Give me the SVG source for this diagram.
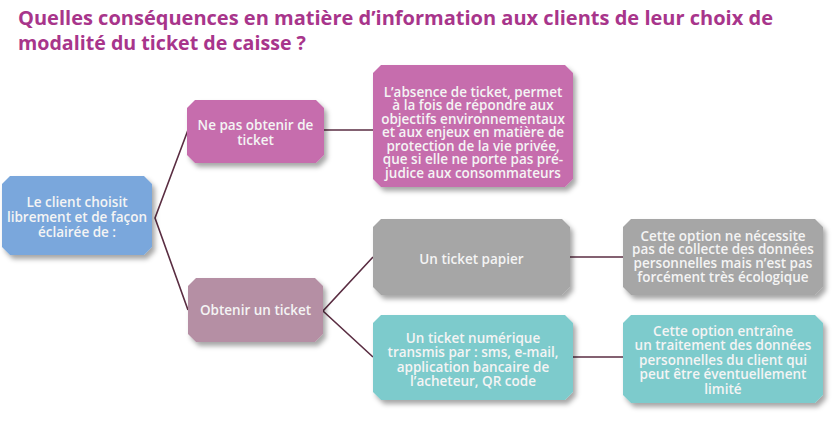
<svg xmlns="http://www.w3.org/2000/svg" width="833" height="426" viewBox="0 0 833 426">
<defs>
<filter id="sh" x="-10%" y="-10%" width="125%" height="130%">
<feDropShadow dx="3" dy="4" stdDeviation="2.5" flood-color="#000" flood-opacity="0.35"/>
</filter>
</defs>
<style>
.title{font-family:"Open Sans","Liberation Sans",sans-serif;font-weight:bold;font-size:19px;fill:#a8358b}
.t{font-family:"Open Sans","Liberation Sans",sans-serif;font-size:13.5px;font-weight:600;fill:#f4f4f4;text-anchor:middle}
.c{fill:none;stroke:#5a2d42;stroke-width:1.6}
.blue{fill:#7aa7dc}.pink{fill:#c66dad}.mauve{fill:#b58fa4}.gray{fill:#a6a6a6}.teal{fill:#7dcbcc}
</style>
<rect width="833" height="426" fill="#fff"/>
<text class="title" x="18" y="25" textLength="755" lengthAdjust="spacingAndGlyphs">Quelles conséquences en matière d’information aux clients de leur choix de</text>
<text class="title" x="18" y="50" textLength="288" lengthAdjust="spacingAndGlyphs">modalité du ticket de caisse ?</text>
<g id="connectors">
<polyline class="c" points="188,130 155,218 188,310"/>
<line class="c" x1="324" y1="130" x2="373" y2="130"/>
<polyline class="c" points="373,257 323,311 373,357"/>
<line class="c" x1="570" y1="257" x2="623" y2="257"/>
<line class="c" x1="573" y1="357" x2="623" y2="357"/>
</g>
<g id="root">
<polygon class="blue" filter="url(#sh)" points="10,176 144,176 152,184 152,247 144,255 10,255 2,247 2,184"/>
<text class="t" x="77" y="207">Le client choisit</text>
<text class="t" x="77" y="222">librement et de façon</text>
<text class="t" x="77" y="236.5">éclairée de :</text>
</g>
<g id="nepas">
<polygon class="pink" filter="url(#sh)" points="195,100 316,100 324,108 324,155 316,163 195,163 187,155 187,108"/>
<text class="t" x="255.5" y="129.5">Ne pas obtenir de</text>
<text class="t" x="255.5" y="145">ticket</text>
</g>
<g id="absence">
<polygon class="pink" filter="url(#sh)" points="381,65 565,65 573,73 573,179 565,187 381,187 373,179 373,73"/>
<text class="t" x="473" y="96.5">L’absence de ticket, permet</text>
<text class="t" x="473" y="110">à la fois de répondre aux</text>
<text class="t" x="473" y="123.5">objectifs environnementaux</text>
<text class="t" x="473" y="137">et aux enjeux en matière de</text>
<text class="t" x="473" y="150.5">protection de la vie privée,</text>
<text class="t" x="473" y="164">que si elle ne porte pas pré-</text>
<text class="t" x="473" y="177.5">judice aux consommateurs</text>
</g>
<g id="obtenir">
<polygon class="mauve" filter="url(#sh)" points="196,278 315,278 323,286 323,334 315,342 196,342 188,334 188,286"/>
<text class="t" x="255.5" y="314.5">Obtenir un ticket</text>
</g>
<g id="papier">
<polygon class="gray" filter="url(#sh)" points="381,219 562,219 570,227 570,287 562,295 381,295 373,287 373,227"/>
<text class="t" x="471.5" y="263.5">Un ticket papier</text>
</g>
<g id="numerique">
<polygon class="teal" filter="url(#sh)" points="381,315 565,315 573,323 573,392 565,400 381,400 373,392 373,323"/>
<text class="t" x="473" y="342.5">Un ticket numérique</text>
<text class="t" x="473" y="357">transmis par : sms, e-mail,</text>
<text class="t" x="473" y="371.5">application bancaire de</text>
<text class="t" x="473" y="386">l’acheteur, QR code</text>
</g>
<g id="option1">
<polygon class="gray" filter="url(#sh)" points="631,219 815,219 823,227 823,287 815,295 631,295 623,287 623,227"/>
<text class="t" x="723" y="240.5">Cette option ne nécessite</text>
<text class="t" x="723" y="254.2">pas de collecte des données</text>
<text class="t" x="723" y="267.9">personnelles mais n’est pas</text>
<text class="t" x="723" y="281.6">forcément très écologique</text>
</g>
<g id="option2">
<polygon class="teal" filter="url(#sh)" points="631,315 815,315 823,323 823,395 815,403 631,403 623,395 623,323"/>
<text class="t" x="723" y="335.5">Cette option entraîne</text>
<text class="t" x="723" y="350">un traitement des données</text>
<text class="t" x="723" y="364.5">personnelles du client qui</text>
<text class="t" x="723" y="379">peut être éventuellement</text>
<text class="t" x="723" y="393.5">limité</text>
</g>
</svg>
